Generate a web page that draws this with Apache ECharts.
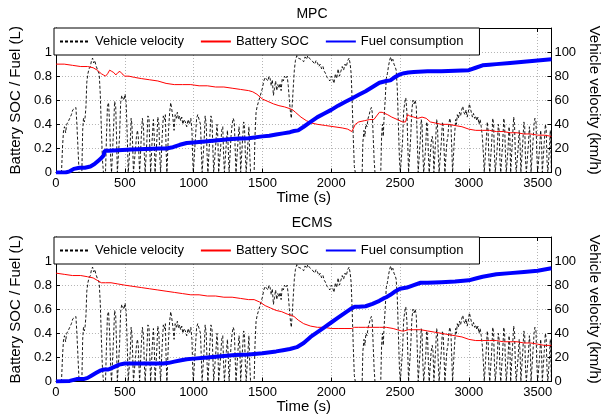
<!DOCTYPE html>
<html><head><meta charset="utf-8">
<script src="https://cdn.jsdelivr.net/npm/echarts@6/dist/echarts.min.js"></script>
<style>html,body{margin:0;padding:0;background:#fff}#c{width:610px;height:416px}</style>
</head><body><div id="c"></div>
<script>
// Drive cycle (shared by both panels): time (s) and vehicle velocity (km/h)
const velT = [
0,40,48,55,62,70,78,88,100,112,
122,134,145,152,160,168,188,194,200,206,
212,218,224,232,240,250,258,266,274,282,
290,298,306,314,322,330,338,345,360,367,
374,382,390,398,404,412,418,426,434,440,
446,456,462,470,478,486,494,502,510,518,
525,535,540,546,552,558,563,572,578,585,
592,598,604,608,615,620,628,636,642,648,
655,660,668,676,682,688,695,700,708,714,
720,727,732,740,748,754,760,768,772,780,
788,795,800,806,812,818,826,834,842,850,
858,866,874,882,890,898,906,914,922,930,
940,950,960,970,980,988,994,998,1008,1014,
1022,1030,1040,1050,1056,1062,1070,1076,1084,1092,
1098,1104,1112,1118,1126,1134,1140,1146,1156,1162,
1170,1176,1182,1190,1196,1204,1212,1218,1224,1232,
1238,1246,1252,1258,1266,1272,1280,1288,1296,1302,
1308,1316,1322,1330,1336,1342,1350,1356,1364,1370,
1376,1382,1390,1395,1402,1408,1414,1440,1446,1454,
1462,1470,1480,1490,1500,1510,1520,1530,1540,1548,
1556,1564,1572,1580,1588,1596,1604,1612,1620,1628,
1636,1644,1652,1660,1670,1680,1688,1696,1704,1710,
1716,1724,1732,1740,1750,1760,1770,1780,1790,1800,
1810,1820,1830,1840,1850,1860,1870,1880,1890,1900,
1910,1920,1930,1940,1950,1960,1970,1980,1990,2000,
2010,2020,2030,2040,2050,2060,2070,2080,2090,2100,
2110,2120,2130,2138,2145,2152,2160,2168,2175,2225,
2230,2238,2245,2252,2260,2268,2276,2284,2292,2298,
2305,2312,2318,2360,2366,2372,2378,2384,2392,2400,
2408,2416,2424,2432,2440,2448,2456,2464,2472,2480,
2488,2496,2502,2512,2518,2526,2534,2542,2550,2556,
2562,2572,2578,2586,2594,2602,2610,2618,2626,2632,
2640,2646,2654,2660,2666,2672,2680,2686,2694,2700,
2706,2712,2720,2726,2734,2740,2746,2752,2758,2766,
2772,2778,2784,2794,2800,2808,2814,2820,2826,2834,
2840,2848,2854,2862,2870,2876,2882,2890,2896,2904,
2910,2916,2924,2932,2940,2948,2956,2964,2972,2980,
2988,2996,3004,3010,3018,3026,3034,3042,3050,3058,
3066,3074,3082,3090,3098,3106,3112,3120,3126,3134,
3140,3146,3152,3160,3166,3174,3180,3186,3192,3200,
3206,3214,3220,3226,3232,3240,3246,3254,3260,3266,
3272,3280,3285,3292,3298,3304,3312,3318,3326,3332,
3338,3344,3352,3358,3366,3372,3378,3386,3392,3400,
3406,3412,3418,3426,3432,3440,3446,3452,3460,3466,
3474,3480,3488,3494,3500,3508,3514,3522,3528,3534,
3542,3548,3556,3562,3568,3574,3580,3586,3592,3596,
3600];
const velV = [
0,0,22,35,38,33,40,42,45,48,
52,53,54,40,20,0,0,35,45,42,
46,55,75,82,86,88,93,95,91,93,
89,88,84,82,65,35,10,0,0,30,
55,58,40,10,0,0,35,59,55,30,
0,0,30,58,64,62,60,65,58,30,
0,0,25,45,40,20,0,0,20,30,
35,30,10,0,0,30,45,38,15,0,
0,25,47,45,20,0,0,30,44,30,
0,0,25,46,40,15,0,0,30,47,
44,48,20,0,0,35,50,58,52,45,
35,48,45,50,44,47,43,46,40,44,
42,38,44,40,45,35,10,0,0,30,
45,48,44,40,20,0,0,25,47,40,
15,0,0,30,47,43,20,0,0,25,
40,30,0,0,20,35,38,15,0,0,
25,35,20,0,0,30,40,45,42,20,
0,0,25,38,30,0,0,28,42,38,
15,0,0,25,38,15,0,0,30,50,
55,58,62,63,70,76,79,80,76,80,
78,72,77,64,70,76,68,73,70,74,
68,78,76,80,78,80,72,60,50,45,
55,70,85,93,97,95,96,94,95,92,
96,94,97,95,96,93,94,90,93,91,
88,90,86,88,84,82,79,80,76,80,
78,74,82,78,86,80,84,88,85,90,
88,93,95,90,82,60,30,5,0,0,
25,35,30,40,38,45,48,52,54,50,
30,10,0,0,30,40,30,45,60,78,
82,88,93,96,92,94,90,88,85,70,
40,10,0,0,25,50,58,62,50,25,
0,0,30,52,60,57,60,55,25,0,
0,25,44,40,15,0,0,20,42,38,
15,0,0,25,30,25,0,0,25,44,
40,15,0,0,25,42,38,20,0,0,
25,30,40,45,40,20,0,0,30,44,
40,48,45,50,47,52,55,50,48,52,
46,50,57,54,50,46,49,45,47,43,
46,40,44,38,30,15,0,0,25,42,
35,10,0,0,25,45,40,15,0,0,
20,40,35,10,0,0,25,45,40,15,
0,0,20,38,30,0,0,30,46,40,
15,0,0,20,35,25,0,0,25,42,
38,10,0,0,22,38,30,0,0,25,
40,45,42,15,0,0,20,35,25,0,
0,25,40,36,10,0,0,20,35,20,
0];

// MPC panel
const mpcSocT = [0,60,120,180,230,270,300,330,345,360,375,390,405,420,435,450,465,480,500,530,570,620,680,740,800,860,920,980,1040,1100,1160,1220,1280,1340,1400,1430,1460,1500,1540,1580,1620,1660,1700,1720,1740,1780,1820,1860,1900,1960,2020,2080,2120,2150,2160,2175,2200,2240,2280,2310,2330,2350,2370,2390,2410,2440,2480,2520,2540,2555,2570,2600,2630,2660,2690,2720,2760,2800,2850,2900,2950,3000,3050,3100,3150,3200,3250,3300,3350,3400,3450,3500,3550,3600];
const mpcSocV = [0.90,0.90,0.89,0.88,0.88,0.87,0.85,0.82,0.81,0.80,0.82,0.85,0.84,0.83,0.81,0.83,0.84,0.82,0.80,0.80,0.79,0.78,0.77,0.76,0.74,0.73,0.73,0.73,0.72,0.72,0.71,0.71,0.70,0.69,0.68,0.67,0.65,0.61,0.59,0.57,0.555,0.545,0.53,0.52,0.50,0.46,0.43,0.41,0.40,0.39,0.38,0.37,0.36,0.34,0.33,0.40,0.42,0.43,0.44,0.44,0.47,0.50,0.50,0.49,0.48,0.46,0.44,0.42,0.42,0.48,0.47,0.46,0.45,0.46,0.45,0.42,0.41,0.40,0.40,0.39,0.38,0.36,0.35,0.35,0.35,0.34,0.34,0.33,0.33,0.32,0.32,0.31,0.31,0.30];
const mpcFuelT = [0,70,100,130,170,210,250,280,310,330,345,355,380,450,550,650,750,800,850,900,950,1000,1100,1200,1300,1400,1500,1550,1600,1650,1700,1730,1760,1800,1850,1900,1950,2000,2050,2100,2150,2200,2250,2300,2350,2400,2430,2460,2500,2530,2560,2600,2700,2800,2900,3000,3050,3100,3150,3200,3300,3400,3500,3600];
const mpcFuelV = [0,0,0.01,0.03,0.04,0.04,0.05,0.07,0.10,0.12,0.14,0.18,0.18,0.185,0.19,0.195,0.20,0.20,0.21,0.23,0.245,0.25,0.26,0.27,0.28,0.285,0.30,0.305,0.315,0.325,0.335,0.345,0.35,0.38,0.42,0.46,0.49,0.52,0.555,0.585,0.615,0.645,0.675,0.71,0.745,0.76,0.765,0.79,0.815,0.825,0.83,0.835,0.84,0.84,0.845,0.85,0.87,0.89,0.895,0.90,0.91,0.92,0.93,0.94];

// ECMS panel
const ecmsSocT = [0,60,120,180,230,270,300,330,360,400,450,500,560,620,680,740,800,860,920,980,1040,1100,1160,1220,1280,1340,1400,1440,1480,1520,1560,1600,1640,1680,1710,1730,1760,1800,1850,1900,1950,2000,2050,2100,2150,2170,2200,2250,2300,2350,2400,2450,2480,2510,2530,2560,2600,2650,2700,2750,2800,2850,2900,2950,3000,3050,3100,3150,3200,3250,3300,3350,3400,3450,3500,3550,3600];
const ecmsSocV = [0.90,0.89,0.88,0.88,0.87,0.86,0.84,0.82,0.82,0.82,0.81,0.80,0.79,0.78,0.77,0.76,0.75,0.74,0.73,0.72,0.72,0.71,0.71,0.70,0.70,0.69,0.68,0.68,0.66,0.63,0.61,0.59,0.58,0.56,0.55,0.54,0.51,0.48,0.46,0.45,0.45,0.44,0.44,0.44,0.44,0.45,0.45,0.45,0.45,0.45,0.45,0.44,0.43,0.42,0.42,0.43,0.43,0.43,0.42,0.41,0.40,0.39,0.38,0.37,0.35,0.34,0.34,0.34,0.34,0.33,0.33,0.33,0.32,0.32,0.31,0.30,0.30];
const ecmsFuelT = [0,100,150,200,230,260,290,320,350,380,420,460,500,600,700,780,820,860,900,950,1000,1100,1200,1300,1400,1500,1600,1650,1700,1750,1800,1850,1900,1950,2000,2050,2100,2150,2170,2200,2250,2300,2350,2380,2400,2430,2460,2500,2550,2600,2650,2700,2800,2900,3000,3050,3100,3150,3200,3300,3400,3500,3600];
const ecmsFuelV = [0,0.005,0.02,0.02,0.03,0.05,0.07,0.09,0.10,0.10,0.12,0.14,0.15,0.15,0.15,0.15,0.155,0.165,0.175,0.185,0.19,0.20,0.21,0.22,0.225,0.235,0.25,0.26,0.27,0.285,0.32,0.37,0.41,0.45,0.49,0.53,0.57,0.61,0.62,0.62,0.625,0.645,0.67,0.69,0.70,0.72,0.745,0.77,0.78,0.80,0.82,0.82,0.825,0.83,0.84,0.855,0.87,0.88,0.89,0.90,0.91,0.92,0.94];

const titles = ['MPC', 'ECMS'];
const names = ['Vehicle velocity', 'Battery SOC', 'Fuel consumption'];

const FONT = '"Liberation Sans", Arial, Helvetica, sans-serif';
function pairs(t, v) { return t.map((x, i) => [x, v[i]]); }

const tops = [28, 237];
const H = 144.5;
const grid = tops.map(t => ({ left: 54, right: 39, top: t, height: H }));

const xAxis = [], yAxis = [], series = [], legend = [], title = [];
const gridLine = { show: true, lineStyle: { color: '#b4b4b4', type: [1, 2], width: 1 } };
const axLine = { show: true, onZero: false, lineStyle: { color: '#000', width: 1 } };
const lbl = { color: '#000', fontSize: 13, fontFamily: FONT };
const tick = { inside: true, length: 4, lineStyle: { color: '#000' } };

tops.forEach((top, g) => {
  xAxis.push({ gridIndex: g, type: 'value', min: 0, max: 3600, interval: 500, position: 'bottom',
    axisLine: axLine, axisTick: tick,
    axisLabel: Object.assign({ margin: 4, formatter: v => v > 3550 ? '' : String(v) }, lbl), splitLine: gridLine,
    name: 'Time (s)', nameLocation: 'middle', nameGap: 8,
    nameTextStyle: { color: '#000', fontSize: 15, fontFamily: FONT } });
  xAxis.push({ gridIndex: g, type: 'value', min: 0, max: 3600, interval: 500, position: 'top',
    axisLine: axLine, axisTick: tick,
    axisLabel: { show: false }, splitLine: { show: false } });
  yAxis.push({ gridIndex: g, type: 'value', min: 0, max: 1.2, interval: 0.2, position: 'left',
    axisLine: axLine, axisTick: tick,
    axisLabel: Object.assign({ margin: 4, formatter: v => v > 1.05 ? '' : String(+v.toFixed(1)) }, lbl),
    splitLine: gridLine,
    name: 'Battery SOC / Fuel (L)', nameLocation: 'middle', nameGap: 28,
    nameTextStyle: { color: '#000', fontSize: 15, fontFamily: FONT } });
  yAxis.push({ gridIndex: g, type: 'value', min: 0, max: 120, interval: 20, position: 'right',
    axisLine: axLine, axisTick: tick,
    axisLabel: Object.assign({ margin: 3, formatter: v => v > 105 ? '' : String(v) }, lbl),
    splitLine: { show: false },
    name: 'Vehicle velocity (km/h)', nameLocation: 'middle', nameGap: 29, nameRotate: -90,
    nameTextStyle: { color: '#000', fontSize: 15, fontFamily: FONT } });

  const socT = g === 0 ? mpcSocT : ecmsSocT, socV = g === 0 ? mpcSocV : ecmsSocV;
  const fT = g === 0 ? mpcFuelT : ecmsFuelT, fV = g === 0 ? mpcFuelV : ecmsFuelV;
  series.push({ name: names[0], type: 'line', xAxisIndex: 2 * g, yAxisIndex: 2 * g + 1,
    data: pairs(velT, velV), symbol: 'none', silent: true, z: 2,
    lineStyle: { color: '#000', width: 0.9, type: [3, 2] }, itemStyle: { color: '#000' } });
  series.push({ name: names[1], type: 'line', xAxisIndex: 2 * g, yAxisIndex: 2 * g,
    data: pairs(socT, socV), symbol: 'none', silent: true, z: 3,
    lineStyle: { color: '#ff0000', width: 1 }, itemStyle: { color: '#ff0000' } });
  series.push({ name: names[2], type: 'line', xAxisIndex: 2 * g, yAxisIndex: 2 * g,
    data: pairs(fT, fV), symbol: 'none', silent: true, z: 4,
    lineStyle: { color: '#0000ff', width: 4 }, itemStyle: { color: '#0000ff' } });

  legend.push({ left: 54, top: top, orient: 'horizontal', data: names, selectedMode: false,
    backgroundColor: '#fff', borderColor: '#000', borderWidth: 1, borderRadius: 0,
    padding: [7, 16, 7, 5], itemGap: 16, itemWidth: 30, itemHeight: 10, z: 10,
    itemStyle: { opacity: 0 },
    textStyle: { color: '#000', fontSize: 13, fontFamily: FONT } });

  title.push({ text: titles[g], left: 312, textAlign: 'center', top: top - 21, padding: 0,
    textStyle: { color: '#000', fontSize: 14, fontWeight: 'normal', fontFamily: FONT } });
});

const chart = echarts.init(document.getElementById('c'), null, { renderer: 'canvas' });
chart.setOption({ animation: false, backgroundColor: '#fff', title, grid, xAxis, yAxis, series, legend });
</script>
</body></html>
